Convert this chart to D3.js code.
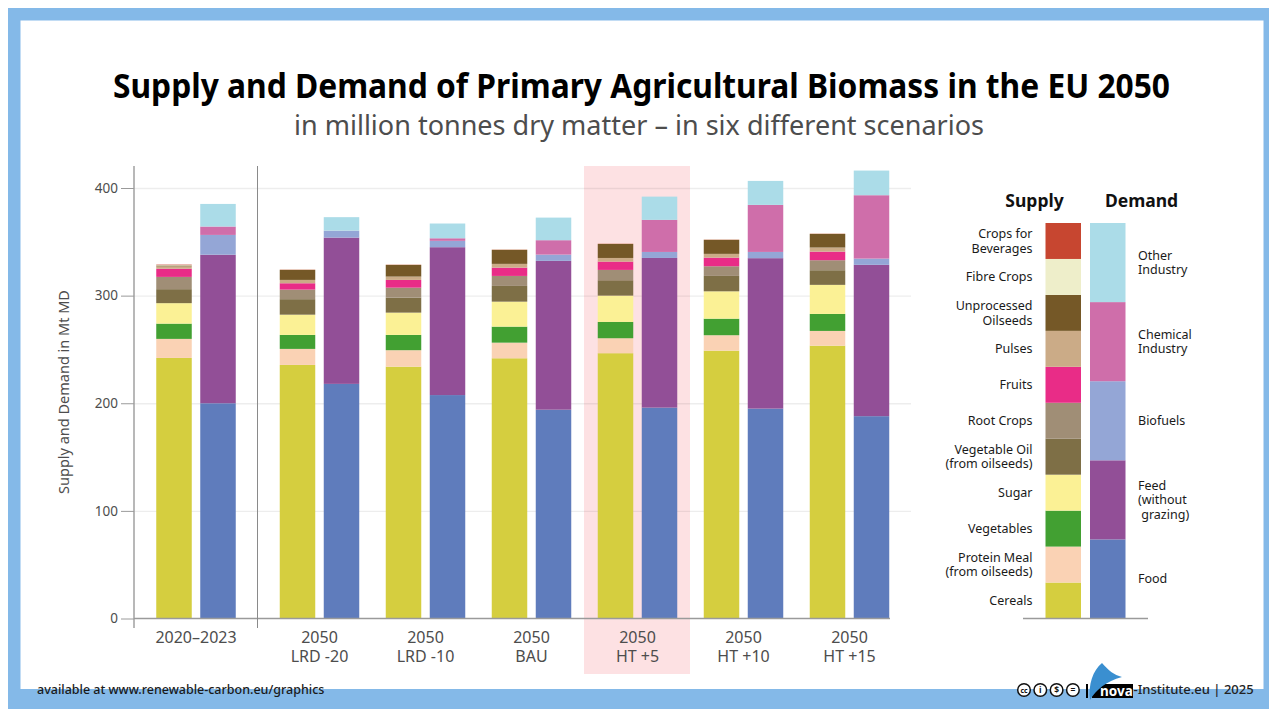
<!DOCTYPE html>
<html>
<head>
<meta charset="utf-8">
<script src="https://cdn.jsdelivr.net/npm/d3@7/dist/d3.min.js"></script>
<style>
html,body{margin:0;padding:0;background:#fff;}
svg{display:block;}
text{font-family:"Noto Sans",sans-serif;}
</style>
</head>
<body>
<svg id="chart" width="1277" height="717"></svg>
<script>
// Scenario groups along the x axis
const scenarios = ["2020–2023","2050|LRD -20","2050|LRD -10","2050|BAU","2050|HT +5","2050|HT +10","2050|HT +15"];

// Supply categories, bottom to top
const supplyNames = ["Cereals","Protein Meal|(from oilseeds)","Vegetables","Sugar","Vegetable Oil|(from oilseeds)","Root Crops","Fruits","Pulses","Unprocessed|Oilseeds","Fibre Crops","Crops for|Beverages"];
const supplyColors = ["#d5ce3f","#fad2b4","#42a032","#fbf195","#7e6f46","#a08e76","#e92c87","#cbab87","#755827","#eeeeca","#c74630"];

// Demand categories, bottom to top
const demandNames = ["Food","Feed|(without| grazing)","Biofuels","Chemical|Industry","Other|Industry"];
const demandColors = ["#5f7cbc","#924f97","#94a6d6","#cf6eaa","#abdce8"];

// Mt dry matter per scenario; one array per supply category
const cereals      = [242.1,235.6,234.0,241.8,246.5,248.9,253.5];
const proteinMeal  = [17.7,14.9,15.3,14.5,13.9,14.3,13.7];
const vegetables   = [14.2,13.0,14.2,14.9,15.2,15.4,15.8];
const sugar        = [19.0,18.8,20.7,23.2,24.4,25.4,27.0];
const vegetableOil = [13.0,14.4,13.9,14.6,14.3,14.3,13.6];
const rootCrops    = [11.4,8.9,9.3,9.3,9.6,9.0,9.3];
const fruits       = [7.6,5.9,7.2,7.7,7.7,8.0,8.0];
const pulses       = [2.2,3.1,3.1,3.5,3.4,3.5,3.8];
const oilseeds     = [0.8,9.3,10.8,13.0,13.0,13.0,12.6];
const fibreCrops   = [0.4,0.2,0.2,0.2,0.2,0.2,0.2];
const beverages    = [0.4,0.2,0.2,0.2,0.2,0.2,0.2];
const supplySeries = [cereals,proteinMeal,vegetables,sugar,vegetableOil,rootCrops,fruits,pulses,oilseeds,fibreCrops,beverages];

// Mt dry matter per scenario; one array per demand category
const food     = [200,218,207.6,194,196,195,188];
const feed     = [138,135.9,137.4,138.3,139,139.8,140.6];
const biofuels = [18.4,6.2,5.9,5.8,5.6,5.8,5.8];
const chemical = [7.8,0.2,2.4,13.4,29.8,43.7,58.9];
const other    = [21,12.6,13.7,21,21.6,22.3,22.9];
const demandSeries = [food,feed,biofuels,chemical,other];

const yTicks = [0,100,200,300,400];
const highlighted = "2050|HT +5";

const TITLE_FONT = '"Noto Sans",sans-serif';
const svg = d3.select("#chart");

// Page frame
svg.append("rect").attr("x",8).attr("y",8).attr("width",1261).attr("height",701).attr("fill","#84b9e8");
svg.append("rect").attr("x",20.5).attr("y",20.5).attr("width",1243).attr("height",688.5-20).attr("fill","#fff");

// Headings
svg.append("text").attr("x",641.5).attr("y",98).attr("text-anchor","middle")
  .attr("font-size",34).attr("font-weight",700).attr("fill","#000")
  .attr("textLength",1057).attr("lengthAdjust","spacingAndGlyphs")
  .text("Supply and Demand of Primary Agricultural Biomass in the EU 2050");
svg.append("text").attr("x",639).attr("y",135).attr("text-anchor","middle")
  .attr("font-size",28).attr("fill","#4d4d4d")
  .attr("textLength",690).attr("lengthAdjust","spacingAndGlyphs")
  .text("in million tonnes dry matter – in six different scenarios");

// Scales
const y = d3.scaleLinear().domain([0,400]).range([618.5,188]);
const x0 = d3.scalePoint().domain(scenarios.slice(1)).range([297.5,827.5]);
const groupCenter = s => s === scenarios[0] ? 196 : x0(s) + 22;
const barW = 35.5, barGap = 44.2;

// Highlight band behind the HT +5 scenario
svg.append("rect").attr("x",584).attr("y",166).attr("width",106).attr("height",508).attr("fill","#fde1e3");

// Horizontal gridlines
const grid = svg.append("g").attr("transform","translate(134,0)")
  .call(d3.axisLeft(y).tickValues(yTicks.slice(1)).tickSize(-777).tickFormat(""));
grid.select(".domain").remove();
grid.selectAll("line").attr("stroke","#000").attr("stroke-opacity",0.07).attr("stroke-width",1.4);

// Stacked columns
function drawStack(series, colors, xOf){
  scenarios.forEach((s,i)=>{
    let acc = 0;
    series.forEach((vals,k)=>{
      const v0 = acc, v1 = acc + vals[i];
      acc = v1;
      svg.append("rect")
        .attr("x",xOf(s)-barW/2).attr("width",barW)
        .attr("y",y(v1)).attr("height",y(v0)-y(v1))
        .attr("fill",colors[k]);
    });
  });
}
drawStack(supplySeries,supplyColors,s=>groupCenter(s)-barGap/2+0.1);
drawStack(demandSeries,demandColors,s=>groupCenter(s)+barGap/2-0.1);

// Value axis
const axisCol = "#9a9a9a", tickCol = "#4d4d4d";
const yAxis = svg.append("g").attr("transform","translate(134,0)")
  .call(d3.axisLeft(y).tickValues(yTicks).tickSize(13).tickPadding(3));
yAxis.select(".domain").remove();
yAxis.selectAll("line").attr("stroke",axisCol).attr("stroke-width",1);
yAxis.selectAll("text").attr("font-size",13.5).attr("fill",tickCol).attr("font-family",'"Noto Sans",sans-serif');
svg.append("line").attr("x1",134).attr("x2",134).attr("y1",166).attr("y2",628).attr("stroke",axisCol).attr("stroke-width",1.4);
svg.append("line").attr("x1",134).attr("x2",890).attr("y1",618.5).attr("y2",618.5).attr("stroke",axisCol).attr("stroke-width",1.4);
svg.append("line").attr("x1",257.5).attr("x2",257.5).attr("y1",166).attr("y2",628).attr("stroke","#8a8a8a").attr("stroke-width",1);

svg.append("text").attr("transform","translate(69,392) rotate(-90)").attr("text-anchor","middle")
  .attr("font-size",14.5).attr("fill",tickCol).text("Supply and Demand in Mt MD");

// Scenario labels
scenarios.forEach(s=>{
  s.split("|").forEach((ln,j)=>{
    svg.append("text").attr("x",groupCenter(s)).attr("y",643+j*19).attr("text-anchor","middle")
      .attr("font-size",16).attr("fill",tickCol).text(ln);
  });
});

// Legend: two unit columns stacked from equal cells
const legBottom = 618.5, legTop = 223, legX1 = 1045.5, legX2 = 1090, legW = 35.5;
const hS = (legBottom-legTop)/supplyNames.length, hD = (legBottom-legTop)/demandNames.length;

supplyNames.forEach((name,i)=>{
  const top = legBottom-(i+1)*hS;
  svg.append("rect").attr("x",legX1).attr("y",top).attr("width",legW).attr("height",hS).attr("fill",supplyColors[i]);
  const lines = name.split("|");
  lines.forEach((ln,j)=>{
    svg.append("text").attr("x",1032.5).attr("y",top+hS/2+4.5+(j-(lines.length-1)/2)*14.5)
      .attr("text-anchor","end").attr("font-size",12.5).attr("fill","#1a1a1a").text(ln);
  });
});
demandNames.forEach((name,i)=>{
  const top = legBottom-(i+1)*hD;
  svg.append("rect").attr("x",legX2).attr("y",top).attr("width",legW).attr("height",hD).attr("fill",demandColors[i]);
  const lines = name.split("|");
  lines.forEach((ln,j)=>{
    svg.append("text").attr("x",1138).attr("y",top+hD/2+4.5+(j-(lines.length-1)/2)*14.5)
      .attr("xml:space","preserve").attr("font-size",12.5).attr("fill","#1a1a1a").text(ln);
  });
});
svg.append("line").attr("x1",1023).attr("x2",1148).attr("y1",618.5).attr("y2",618.5).attr("stroke",axisCol).attr("stroke-width",1.4);
svg.append("text").attr("x",1034.5).attr("y",207).attr("text-anchor","middle").attr("font-size",17.5).attr("font-weight",700).attr("fill","#111").text("Supply");
svg.append("text").attr("x",1141.5).attr("y",207).attr("text-anchor","middle").attr("font-size",17.5).attr("font-weight",700).attr("fill","#111").text("Demand");

// Footer
svg.append("text").attr("x",37).attr("y",694).attr("font-family","Roboto").attr("font-size",12.5).attr("font-weight",500).attr("fill","#1a1a1a")
  .text("available at www.renewable-carbon.eu/graphics");

// Licence badges
const badges = ["cc","i","$","="];
badges.forEach((b,i)=>{
  const cx = 1024+i*16.3;
  svg.append("circle").attr("cx",cx).attr("cy",690).attr("r",6.3).attr("fill","#fff").attr("stroke","#111").attr("stroke-width",1.5);
  svg.append("text").attr("x",cx).attr("y",693).attr("text-anchor","middle").attr("font-family","Roboto").attr("font-weight",700)
    .attr("font-size",b==="cc"?7:8.5).attr("fill","#111").text(b);
});

// Institute mark
svg.append("rect").attr("x",1086).attr("y",684).attr("width",2).attr("height",14).attr("fill","#000");
svg.append("rect").attr("x",1092).attr("y",684).attr("width",41).attr("height",14).attr("fill","#000");
svg.append("path").attr("d","M1090 700 C1088 685 1093 670 1102 663 C1108 670 1114 675 1122 677 C1106 681 1096 690 1090 700 Z").attr("fill","#3a8fd0");
svg.append("text").attr("x",1100).attr("y",696).attr("font-family","Roboto").attr("font-weight",700).attr("font-size",13.5).attr("fill","#fff").text("nova");
svg.append("text").attr("x",1133.5).attr("y",694).attr("font-family","Roboto").attr("font-size",13).attr("font-weight",500).attr("fill","#222").text("-Institute.eu | 2025");
</script>
</body>
</html>
